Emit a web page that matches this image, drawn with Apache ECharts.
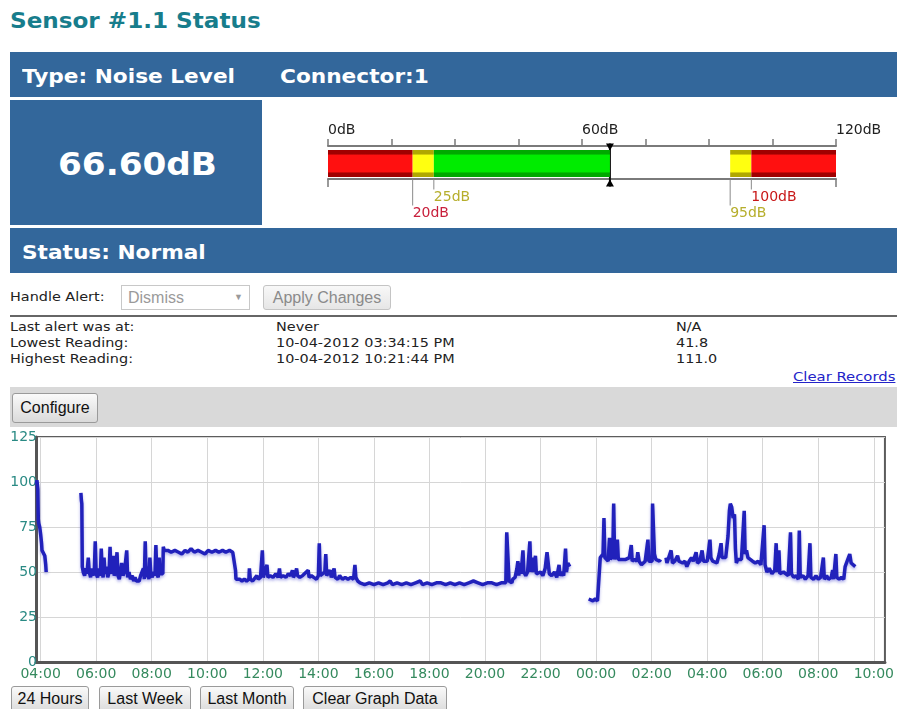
<!DOCTYPE html>
<html>
<head>
<meta charset="utf-8">
<title>Sensor #1.1 Status</title>
<script src="https://cdn.jsdelivr.net/npm/echarts@6/dist/echarts.min.js"></script>
<style>
  html, body { margin: 0; padding: 0; background: #fff; overflow: hidden; }
  body { width: 897px; height: 709px; position: relative; font-family: 'DejaVu Sans', sans-serif; }
  .abs { position: absolute; }
  .wide { display: inline-block; transform-origin: left center; }
  .title { left: 10px; top: 9px; font-size: 21px; font-weight: bold; color: #177d8c; }
  .band { background: #33679b; color: #fff; font-weight: bold; font-size: 19px; }
  .small { font-size: 12px; color: #222; transform: scaleX(1.2); transform-origin: left top; }
  .btn { position: absolute; box-sizing: border-box; border: 1px solid #9a9a9a; border-radius: 3px;
         background: linear-gradient(#fafafa, #dadada); font-family: 'Liberation Sans', Arial, sans-serif;
         font-size: 16px; color: #111; text-align: center; }
</style>
</head>
<body>
<div class="abs title"><span class="wide" style="transform:scaleX(1.1);">Sensor #1.1 Status</span></div>
<div class="abs band" style="left:10px;top:52px;width:887px;height:45px;line-height:45px;">
  <span class="wide" style="position:absolute;left:12px;top:2px;transform:scaleX(1.14);">Type: Noise Level</span>
  <span class="wide" style="position:absolute;left:270px;top:2px;transform:scaleX(1.14);">Connector:1</span>
</div>
<div class="abs band" style="left:10px;top:100px;width:252px;height:125px;line-height:125px;font-size:32px;">
  <span class="wide" style="position:absolute;left:48px;top:2px;transform:scaleX(1.07);">66.60dB</span>
</div>
<div class="abs" id="gauge" style="left:300px;top:100px;width:597px;height:128px;"></div>
<div class="abs band" style="left:10px;top:228px;width:887px;height:45px;line-height:45px;">
  <span class="wide" style="position:absolute;left:12px;top:2px;transform:scaleX(1.14);">Status: Normal</span>
</div>

<div class="abs small" style="left:10px;top:290px;">Handle Alert:</div>
<div class="abs" style="left:121px;top:285px;width:129px;height:25px;box-sizing:border-box;border:1px solid #c8c8c8;font-family:'Liberation Sans',Arial,sans-serif;font-size:16px;color:#9a9a9a;line-height:23px;padding-left:6px;">Dismiss<span style="position:absolute;right:6px;top:0;font-size:9px;">&#9660;</span></div>
<div class="btn" style="left:263px;top:285px;width:128px;height:25px;line-height:23px;color:#8a8a8a;border-color:#c4c4c4;background:linear-gradient(#f8f8f8,#e6e6e6);">Apply Changes</div>
<div class="abs" style="left:10px;top:315px;width:887px;height:2px;background:#666;"></div>

<div class="abs small" style="left:10px;top:319px;line-height:16px;">Last alert was at:<br>Lowest Reading:<br>Highest Reading:</div>
<div class="abs small" style="left:276px;top:319px;line-height:16px;">Never<br>10-04-2012 03:34:15 PM<br>10-04-2012 10:21:44 PM</div>
<div class="abs small" style="left:676px;top:319px;line-height:16px;">N/A<br>41.8<br>111.0</div>
<div class="abs" style="left:793px;top:369px;font-size:13px;color:#2323c8;text-decoration:underline;transform:scaleX(1.14);transform-origin:left top;">Clear Records</div>

<div class="abs" style="left:10px;top:387px;width:887px;height:40px;background:#d9d9d9;"></div>
<div class="btn" style="left:12px;top:393px;width:86px;height:30px;line-height:28px;">Configure</div>

<div class="abs" id="chart" style="left:0;top:430px;width:897px;height:256px;"></div>

<div class="btn" style="left:11px;top:686px;width:78px;height:27px;line-height:24px;">24 Hours</div>
<div class="btn" style="left:99px;top:686px;width:92px;height:27px;line-height:24px;">Last Week</div>
<div class="btn" style="left:200px;top:686px;width:94px;height:27px;line-height:24px;">Last Month</div>
<div class="btn" style="left:303px;top:686px;width:144px;height:27px;line-height:24px;">Clear Graph Data</div>

<script>
// gauge readings (dB)
var gaugeMin = 0
var gaugeMax = 120
var gaugeValue = 66.6
var gaugeMarks = [20, 25, 95, 100]
var gaugeLabels = [0, 60, 120]

// noise level readings, 10-04-2012 03:50 to 10-05-2012 09:20
var runEarly = [
  ['03:51', 99], ['03:52', 101], ['03:53', 100], ['03:54', 96], ['03:55', 79], ['03:56', 77],
  ['03:58', 75], ['04:00', 71], ['04:02', 66], ['04:03', 62], ['04:05', 61], ['04:07', 61],
  ['04:09', 59], ['04:10', 58], ['04:11', 54], ['04:12', 50]
]
var runDay = [
  ['05:27', 94], ['05:28', 90], ['05:29', 88], ['05:30', 53], ['05:32', 50], ['05:35', 48],
  ['05:38', 52], ['05:40', 49], ['05:43', 58], ['05:45', 50], ['05:48', 47], ['05:50', 52],
  ['05:53', 48], ['05:56', 51], ['05:58', 67], ['06:00', 49], ['06:03', 47], ['06:06', 52],
  ['06:09', 48], ['06:11', 63], ['06:13', 50], ['06:15', 47], ['06:17', 58], ['06:19', 49],
  ['06:22', 53], ['06:25', 47], ['06:28', 50], ['06:30', 64], ['06:32', 49], ['06:35', 52],
  ['06:37', 59], ['06:39', 48], ['06:42', 50], ['06:45', 61], ['06:47', 48], ['06:50', 46],
  ['06:53', 51], ['06:55', 55], ['06:58', 48], ['07:01', 50], ['07:04', 57], ['07:06', 62],
  ['07:08', 47], ['07:11', 50], ['07:14', 46], ['07:18', 48], ['07:21', 45], ['07:24', 47],
  ['07:27', 45], ['07:30', 46], ['07:33', 45], ['07:36', 48], ['07:39', 47], ['07:42', 52],
  ['07:44', 46], ['07:46', 67], ['07:48', 47], ['07:51', 53], ['07:54', 46], ['07:56', 58],
  ['07:58', 49], ['08:01', 47], ['08:04', 50], ['08:07', 48], ['08:09', 65], ['08:11', 49],
  ['08:14', 47], ['08:16', 58], ['08:18', 49], ['08:21', 48], ['08:24', 49], ['08:25', 64],
  ['08:27', 62], ['08:29', 61], ['08:35', 62], ['08:42', 61], ['08:50', 62], ['08:58', 61],
  ['09:05', 60], ['09:12', 62], ['09:18', 61], ['09:25', 63], ['09:32', 61], ['09:40', 62],
  ['09:48', 61], ['09:55', 60], ['10:02', 62], ['10:10', 61], ['10:18', 62], ['10:25', 61],
  ['10:33', 62], ['10:40', 61], ['10:48', 62], ['10:55', 61], ['10:58', 60], ['11:01', 51],
  ['11:02', 46], ['11:06', 45], ['11:10', 46], ['11:15', 45], ['11:20', 46], ['11:25', 45],
  ['11:30', 46], ['11:31', 52], ['11:33', 46], ['11:38', 45], ['11:42', 46], ['11:47', 48],
  ['11:50', 46], ['11:55', 47], ['11:59', 62], ['12:01', 47], ['12:05', 48], ['12:09', 54],
  ['12:11', 47], ['12:16', 48], ['12:22', 47], ['12:28', 49], ['12:33', 47], ['12:36', 52],
  ['12:38', 47], ['12:44', 48], ['12:50', 47], ['12:55', 49], ['13:00', 48], ['13:04', 51],
  ['13:06', 47], ['13:10', 49], ['13:13', 52], ['13:15', 48], ['13:20', 47], ['13:26', 48],
  ['13:30', 47], ['13:38', 51], ['13:40', 47], ['13:45', 48], ['13:50', 47], ['13:56', 46],
  ['14:00', 48], ['14:02', 66], ['14:04', 48], ['14:08', 47], ['14:14', 50], ['14:16', 60],
  ['14:18', 48], ['14:22', 47], ['14:25', 51], ['14:28', 47], ['14:32', 48], ['14:34', 52],
  ['14:36', 47], ['14:42', 46], ['14:46', 48], ['14:52', 46], ['14:58', 47], ['15:04', 46],
  ['15:10', 47], ['15:16', 46], ['15:19', 54], ['15:21', 47], ['15:25', 45], ['15:30', 44],
  ['15:40', 43], ['15:50', 44], ['16:00', 43], ['16:10', 44], ['16:20', 43], ['16:30', 44],
  ['16:35', 45], ['16:40', 43], ['16:50', 44], ['17:00', 43], ['17:10', 44], ['17:20', 43],
  ['17:30', 44], ['17:40', 45], ['17:45', 43], ['17:55', 44], ['18:05', 43], ['18:15', 44],
  ['18:25', 44], ['18:35', 43], ['18:45', 44], ['18:55', 43], ['19:05', 44], ['19:15', 43],
  ['19:25', 44], ['19:35', 45], ['19:45', 44], ['19:55', 43], ['20:05', 44], ['20:15', 44],
  ['20:25', 43], ['20:35', 44], ['20:45', 44], ['20:47', 72], ['20:50', 73], ['20:52', 45],
  ['20:58', 44], ['21:00', 46], ['21:05', 47], ['21:09', 52], ['21:11', 56], ['21:13', 48],
  ['21:16', 55], ['21:18', 49], ['21:22', 62], ['21:24', 50], ['21:28', 48], ['21:32', 50],
  ['21:37', 67], ['21:39', 50], ['21:41', 58], ['21:44', 50], ['21:49', 59], ['21:51', 49],
  ['21:55', 48], ['22:00', 50], ['22:05', 48], ['22:10', 52], ['22:14', 61], ['22:17', 62],
  ['22:19', 49], ['22:24', 48], ['22:30', 50], ['22:35', 47], ['22:40', 54], ['22:42', 48],
  ['22:46', 50], ['22:50', 48], ['22:54', 63], ['22:56', 50], ['22:59', 55], ['23:03', 53]
]
var runNight = [
  ['23:44', 35], ['23:48', 35], ['23:53', 34], ['23:58', 35], ['00:03', 34], ['00:07', 34],
  ['00:09', 58], ['00:12', 57], ['00:15', 60], ['00:17', 80], ['00:19', 58], ['00:22', 57],
  ['00:26', 56], ['00:29', 69], ['00:31', 57], ['00:34', 56], ['00:36', 59], ['00:38', 88],
  ['00:40', 57], ['00:43', 56], ['00:46', 68], ['00:48', 57], ['00:52', 56], ['00:56', 57],
  ['01:00', 56], ['01:04', 57], ['01:08', 56], ['01:12', 58], ['01:16', 65], ['01:18', 56],
  ['01:23', 57], ['01:28', 56], ['01:30', 61], ['01:33', 56], ['01:38', 54], ['01:42', 53],
  ['01:46', 56], ['01:50', 55], ['01:52', 68], ['01:54', 56], ['01:58', 55], ['02:01', 56],
  ['02:02', 88], ['02:04', 87], ['02:06', 60], ['02:09', 57], ['02:13', 58], ['02:17', 56],
  ['02:19', 57]
]
var runMorning = [
  ['02:31', 58], ['02:33', 55], ['02:37', 56], ['02:42', 62], ['02:45', 55], ['02:50', 56],
  ['02:56', 59], ['02:59', 56], ['03:03', 57], ['03:07', 55], ['03:12', 56], ['03:16', 53],
  ['03:21', 56], ['03:26', 58], ['03:30', 56], ['03:36', 61], ['03:39', 55], ['03:44', 56],
  ['03:49', 62], ['03:52', 56], ['03:56', 57], ['04:00', 56], ['04:04', 55], ['04:06', 68],
  ['04:08', 58], ['04:12', 56], ['04:16', 57], ['04:21', 55], ['04:26', 60], ['04:30', 66],
  ['04:32', 58], ['04:36', 57], ['04:40', 58], ['04:45', 70], ['04:48', 84], ['04:50', 88],
  ['04:53', 86], ['04:56', 80], ['04:59', 82], ['05:01', 63], ['05:03', 55], ['05:06', 57],
  ['05:10', 56], ['05:14', 57], ['05:18', 56], ['05:20', 84], ['05:22', 60], ['05:25', 62],
  ['05:28', 58], ['05:32', 57], ['05:38', 56], ['05:44', 55], ['05:50', 56], ['05:56', 54],
  ['06:00', 55], ['06:03', 76], ['06:05', 54], ['06:09', 50], ['06:14', 52], ['06:20', 49],
  ['06:26', 51], ['06:29', 66], ['06:31', 50], ['06:35', 62], ['06:37', 49], ['06:41', 48],
  ['06:45', 50], ['06:50', 49], ['06:55', 48], ['07:00', 72], ['07:02', 49], ['07:07', 47],
  ['07:12', 48], ['07:17', 46], ['07:19', 73], ['07:21', 47], ['07:27', 48], ['07:32', 46],
  ['07:38', 48], ['07:42', 66], ['07:44', 47], ['07:50', 46], ['07:55', 48], ['08:00', 46],
  ['08:05', 47], ['08:11', 58], ['08:13', 46], ['08:18', 48], ['08:22', 46], ['08:28', 47],
  ['08:31', 51], ['08:33', 46], ['08:38', 60], ['08:40', 47], ['08:45', 46], ['08:50', 47],
  ['08:55', 46], ['08:58', 53], ['09:02', 52], ['09:08', 60], ['09:11', 55], ['09:15', 54],
  ['09:20', 53]
]
var xTickLabels = ['04:00', '06:00', '08:00', '10:00', '12:00', '14:00', '16:00', '18:00', '20:00',
  '22:00', '00:00', '02:00', '04:00', '06:00', '08:00', '10:00']
var yTicks = [0, 25, 50, 75, 100, 125]
var xStart = '03:50'
var xEnd = '10:24'

// clock strings -> hours since midnight of the first day (rolls over past midnight)
function clock (t) {
  var p = t.split(':')
  return +p[0] + p[1] / 60
}
function toHours (list) {
  var day = 0
  var last = -1
  return list.map(function (t) {
    var h = clock(t)
    if (h < last) day += 24
    last = h
    return day + h
  })
}

var runs = [runEarly, runDay, runNight, runMorning]
var allTimes = toHours([].concat.apply([], runs).map(function (r) { return r[0] }))
var k = 0
var seriesData = runs.map(function (run) {
  return run.map(function (r) { return [allTimes[k++], r[1]] })
})
var tickHours = toHours(xTickLabels)

function pad (n) { return (n < 10 ? '0' : '') + n }

var chart = echarts.init(document.getElementById('chart'))
chart.setOption({
  animation: false,
  grid: { left: 36, right: 11, top: 7, bottom: 24, show: true, borderColor: '#5c5c5c', borderWidth: 2 },
  xAxis: {
    type: 'value',
    min: clock(xStart),
    max: 24 + clock(xEnd),
    axisLine: { show: true, lineStyle: { color: '#555', width: 3 } },
    axisTick: { show: false, customValues: tickHours },
    splitLine: { show: true, lineStyle: { color: '#d6d6d6', width: 1 } },
    axisLabel: {
      customValues: tickHours,
      margin: 5,
      color: '#358a5e',
      fontFamily: 'DejaVu Sans',
      fontSize: 14,
      formatter: function (v) { return pad(Math.round(v) % 24) + ':00' }
    }
  },
  yAxis: {
    type: 'value',
    min: yTicks[0],
    max: yTicks[yTicks.length - 1],
    interval: 25,
    axisLine: { show: true, lineStyle: { color: '#555', width: 3 } },
    axisTick: { show: false },
    splitLine: { lineStyle: { color: '#d6d6d6', width: 1 } },
    axisLabel: { margin: -1, color: '#2a8a84', fontFamily: 'DejaVu Sans', fontSize: 14 }
  },
  series: seriesData.map(function (d) {
    return {
      type: 'line',
      data: d,
      showSymbol: false,
      symbol: 'none',
      lineStyle: {
        color: '#2121bb',
        width: 3.5,
        shadowColor: 'rgba(40, 40, 200, 0.35)',
        shadowBlur: 3,
        shadowOffsetY: 2
      }
    }
  })
})

// gauge
function band (edge, mid) {
  return new echarts.graphic.LinearGradient(0, 0, 0, 1, [
    { offset: 0, color: edge }, { offset: 0.14, color: edge }, { offset: 0.2, color: mid },
    { offset: 0.8, color: mid }, { offset: 0.86, color: edge }, { offset: 1, color: edge }
  ])
}
var red = band('#a00000', '#ff1010')
var yellow = band('#b0a800', '#ffff10')
var green = band('#00a800', '#00ec00')
var segments = [
  [gaugeMin, gaugeMarks[0], red],
  [gaugeMarks[0], gaugeMarks[1], yellow],
  [gaugeMarks[1], gaugeValue, green],
  [gaugeValue, gaugeMarks[2], 'transparent'],
  [gaugeMarks[2], gaugeMarks[3], yellow],
  [gaugeMarks[3], gaugeMax, red]
]
var markColors = ['#c8203c', '#b6ae2c', '#b6ae2c', '#c81818']

var gauge = echarts.init(document.getElementById('gauge'))
gauge.setOption({
  animation: false,
  grid: { left: 28, right: 61, top: 50, height: 27 },
  xAxis: [{
    type: 'value', min: gaugeMin, max: gaugeMax, interval: 15, position: 'top', offset: 4,
    axisLine: { show: true, lineStyle: { color: '#7a7a7a', width: 2 } },
    axisTick: { show: true, length: 7, lineStyle: { color: '#7a7a7a', width: 1.5 } },
    splitLine: { show: false },
    axisLabel: {
      customValues: gaugeLabels, align: 'left', margin: 9, color: '#222',
      fontFamily: 'DejaVu Sans', fontSize: 14, formatter: '{value}dB'
    }
  }, {
    type: 'value', min: gaugeMin, max: gaugeMax, position: 'bottom', offset: 2,
    axisLine: { show: true, lineStyle: { color: '#7a7a7a', width: 2 } },
    axisTick: { show: true, length: 8, customValues: [gaugeMin, gaugeMax], lineStyle: { color: '#7a7a7a', width: 1.5 } },
    splitLine: { show: false },
    axisLabel: { show: false }
  }],
  yAxis: { type: 'category', data: ['level'], show: false },
  series: segments.map(function (s) {
    return {
      type: 'bar', stack: 'gauge', barWidth: 27, xAxisIndex: 0,
      data: [s[1] - s[0]],
      itemStyle: { color: s[2] }
    }
  }).concat([{
    type: 'custom',
    xAxisIndex: 0,
    clip: false,
    data: gaugeMarks.map(function (v) { return [v, 0] }),
    encode: { x: 0, y: 1 },
    renderItem: function (params, api) {
      var p = api.coord([api.value(0), 0])
      var long = params.dataIndex === 0 || params.dataIndex === 2
      var y0 = p[1] + 16
      var len = long ? 26 : 10
      return {
        type: 'group',
        children: [
          { type: 'line', shape: { x1: p[0], y1: y0, x2: p[0], y2: y0 + len }, style: { stroke: '#8a8a8a', lineWidth: 1 } },
          { type: 'text', x: p[0], y: y0 + len + 1, style: { text: api.value(0) + 'dB', fill: markColors[params.dataIndex], font: '14px "DejaVu Sans"', align: 'left', verticalAlign: 'top' } }
        ]
      }
    }
  }, {
    type: 'custom',
    xAxisIndex: 0,
    clip: false,
    data: [[gaugeValue, 0]],
    encode: { x: 0, y: 1 },
    renderItem: function (params, api) {
      var p = api.coord([api.value(0), 0])
      var x = p[0]
      var top = p[1] - 20
      var bot = p[1] + 23
      return {
        type: 'group',
        children: [
          { type: 'line', shape: { x1: x, y1: top, x2: x, y2: bot }, style: { stroke: '#111', lineWidth: 2 } },
          { type: 'polygon', shape: { points: [[x - 4, top], [x + 4, top], [x, top + 7]] }, style: { fill: '#000' } },
          { type: 'polygon', shape: { points: [[x - 4, bot], [x + 4, bot], [x, bot - 7]] }, style: { fill: '#000' } }
        ]
      }
    }
  }])
})
</script>
</body>
</html>
